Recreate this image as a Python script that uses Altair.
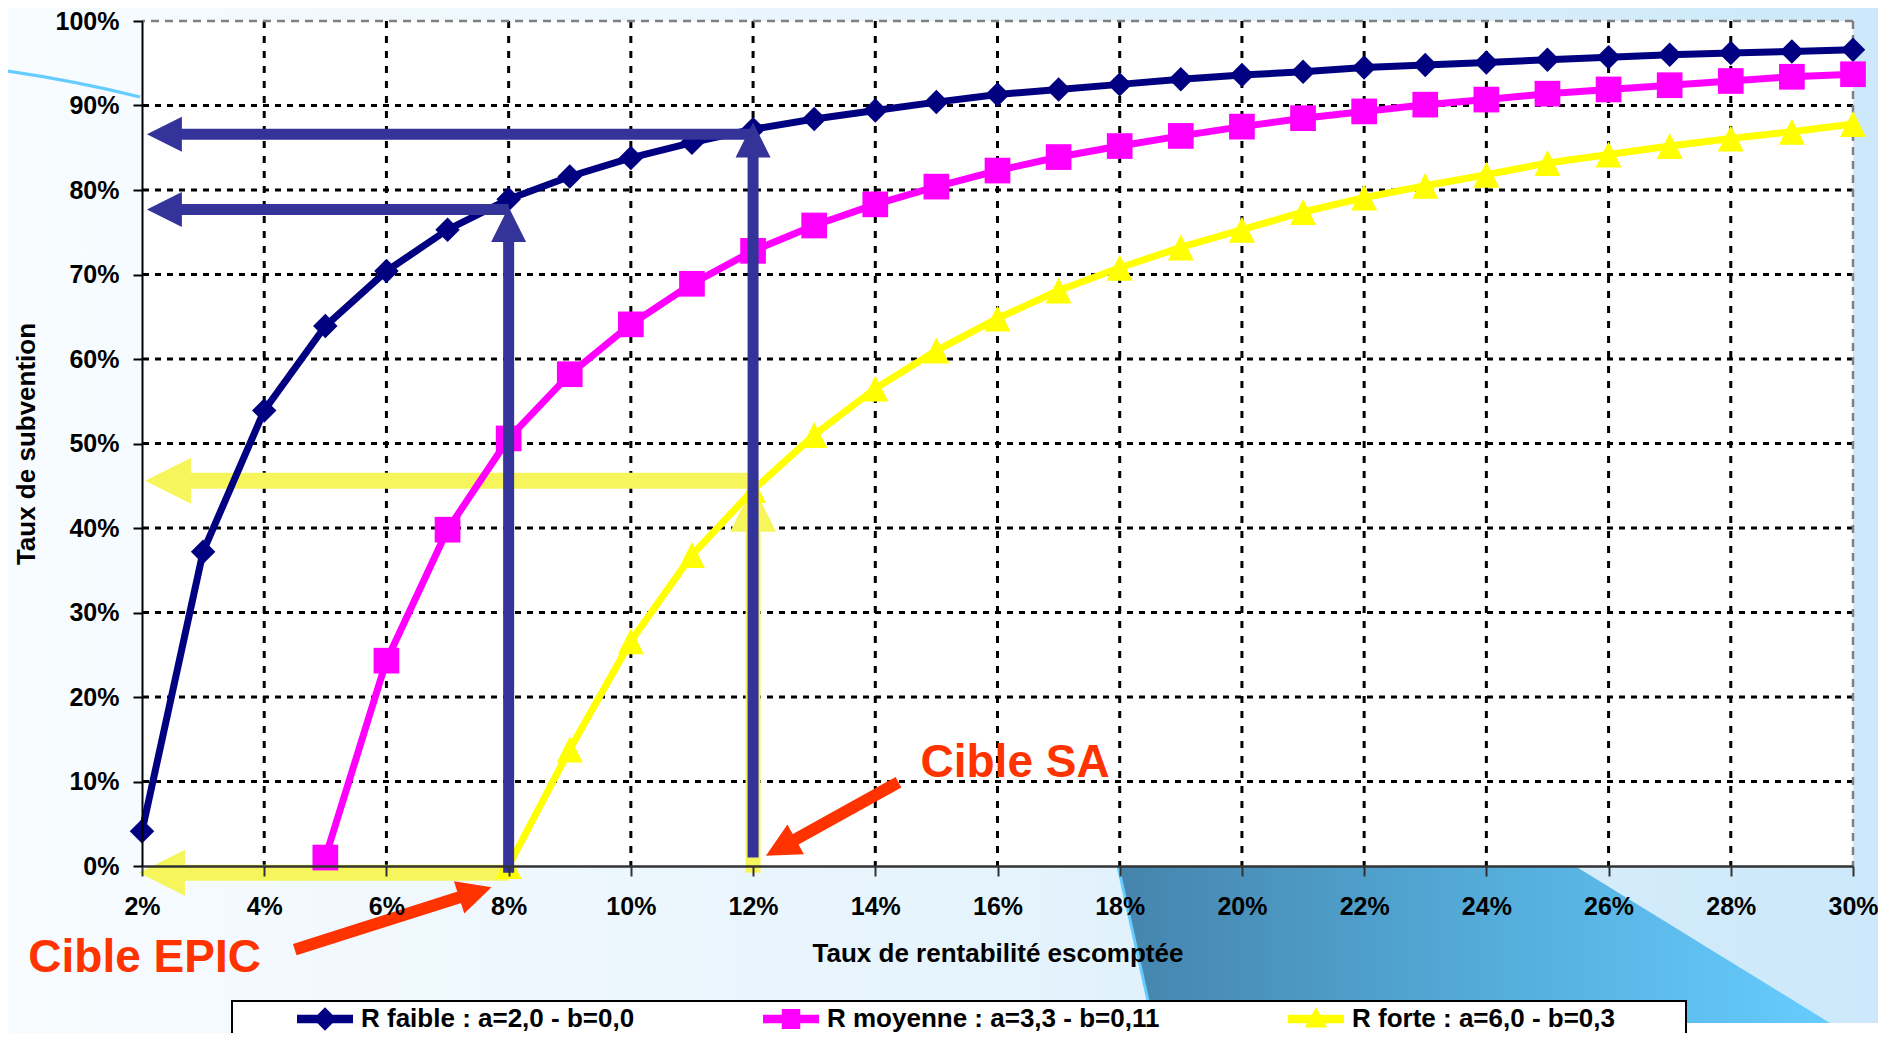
import math
import altair as alt
import pandas as pd

# ---------------- data ----------------
series_names = ["R faible : a=2,0 - b=0,0", "R moyenne : a=3,3 - b=0,11", "R forte : a=6,0 - b=0,3"]
series_colors = ["#000080", "#FF00FF", "#FFFF00"]

faible_x = list(range(2, 31))
faible_y = [4.1, 37.2, 53.9, 63.9, 70.4, 75.3, 78.9, 81.6, 83.8, 85.6,
            87.2, 88.4, 89.4, 90.4, 91.3, 91.9, 92.5, 93.1, 93.6, 94.0,
            94.5, 94.8, 95.1, 95.4, 95.7, 96.0, 96.2, 96.4, 96.6]
moyenne_x = list(range(5, 31))
moyenne_y = [1.0, 24.3, 39.8, 50.6, 58.2, 64.1, 68.9, 72.8, 75.8, 78.3,
             80.4, 82.3, 83.9, 85.2, 86.4, 87.5, 88.5, 89.3, 90.1, 90.7,
             91.4, 91.9, 92.4, 92.9, 93.4, 93.7]
forte_x = list(range(8, 31))
forte_y = [0.0, 13.8, 26.6, 36.8, 44.5, 51.0, 56.5, 61.0, 64.8, 68.1,
           70.8, 73.2, 75.3, 77.4, 79.1, 80.5, 81.8, 83.2, 84.2, 85.2,
           86.1, 86.9, 87.8]

x_ticks = list(range(2, 31, 2))
y_ticks = list(range(0, 101, 10))

# annotation arrows (data units: % on both axes)
navy_h_from = [12, 8]
navy_h_to = [2.08, 2.08]
navy_h_y = [86.6, 77.7]
navy_v_x = [8, 12]
navy_v_from = [-0.8, 1.0]
navy_v_to = [78.0, 88.0]
yellow_h_from = [12, 8]
yellow_h_to = [2.05, 1.95]
yellow_h_y = [45.6, -0.8]
yellow_v_x = [12]
yellow_v_from = [-0.8]
yellow_v_to = [45.0]
red_tail = [(4.50, -9.9), (14.38, 9.9)]
red_tip = [(7.72, -2.5), (12.21, 1.2)]
red_text = ["Cible EPIC", "Cible SA"]
red_text_x = [0.14, 14.74]
red_text_y = [-12.6, 10.5]

# ---------------- layout ----------------
PAD_L, PAD_T = 134, 13
W, H = 1711, 845
PAD_R = 1870 - PAD_L - W
PAD_B = 1025 - PAD_T - H
OX, OY = 8 + PAD_L, 8 + PAD_T   # plot origin in page pixels
FONT = "Liberation Sans"
NAVY_ARROW = "#333399"
YELLOW_ARROW = "#F6F65C"
RED = "#FF3300"


def page_path(cmds):
    """Build an SVG path (relative to the plot origin) from page-pixel points."""
    out = []
    for c, pts in cmds:
        out.append(c + " ".join(f"{x - OX:.1f},{y - OY:.1f}" for x, y in pts))
    return "".join(out)


xs = alt.Scale(domain=[x_ticks[0], x_ticks[-1]], nice=False, zero=False)
ys = alt.Scale(domain=[y_ticks[0], y_ticks[-1]], nice=False, zero=False)

xaxis = alt.Axis(values=x_ticks, labelExpr="datum.value + '%'", grid=False,
                 title="Taux de rentabilité escomptée", titleFont=FONT, titleFontSize=26,
                 titleFontWeight="bold", titleColor="black", titleX=W / 2, titleY=87,
                 titleBaseline="middle", titleAlign="center",
                 labelFont=FONT, labelFontSize=25, labelFontWeight="bold", labelColor="black",
                 labelFlush=False, labelOverlap=False, labelPadding=18,
                 tickSize=10, tickWidth=2, tickColor="#333333",
                 domainColor="#333333", domainWidth=2.5, zindex=1)
yaxis = alt.Axis(values=y_ticks, labelExpr="datum.value + '%'", grid=False,
                 title="Taux de subvention", titleFont=FONT, titleFontSize=26,
                 titleFontWeight="bold", titleColor="black", titleAngle=270,
                 titleX=-116, titleY=H / 2, titleBaseline="middle", titleAlign="center",
                 labelFont=FONT, labelFontSize=25, labelFontWeight="bold", labelColor="black",
                 labelFlush=False, labelOverlap=False, labelPadding=14,
                 tickSize=9, tickWidth=2, tickColor="black",
                 domainColor="black", domainWidth=2, zindex=1)


def X(f):
    return alt.X(f, type="quantitative", scale=xs, axis=xaxis)


def Y(f):
    return alt.Y(f, type="quantitative", scale=ys, axis=yaxis)


one = alt.Data(values=[{}])

# ---------------- decoration ----------------
bg_grad = alt.LinearGradient(gradient="linear", x1=0, y1=0, x2=1, y2=0, stops=[
    alt.GradientStop(color="#F8FCFF", offset=0),
    alt.GradientStop(color="#E4F3FC", offset=0.55),
    alt.GradientStop(color="#CCE8FA", offset=1)])
dark_grad = alt.LinearGradient(gradient="linear", x1=0, y1=0, x2=1, y2=0, stops=[
    alt.GradientStop(color="#4584AC", offset=0),
    alt.GradientStop(color="#55AEDC", offset=0.55),
    alt.GradientStop(color="#66CCFF", offset=1)])

bg = alt.Chart(one).mark_rect(fill=bg_grad, strokeWidth=0).encode(
    x=alt.value(-PAD_L), x2=alt.value(W + PAD_R), y=alt.value(-PAD_T), y2=alt.value(H + PAD_B))
dark = alt.Chart(one).mark_point(
    shape=page_path([("M", [(1118, 866)]), ("L", [(1575, 866), (1830, 1023), (1153, 1023)]), ("Z", [])]),
    size=4, filled=True, fill=dark_grad, strokeWidth=0, opacity=1).encode(x=alt.value(0), y=alt.value(0))
edge = alt.Chart(one).mark_point(
    shape=page_path([("M", [(1118, 866)]), ("L", [(1153, 1023)])]), size=4, filled=False,
    stroke="#66CCFF", strokeWidth=3, opacity=1).encode(x=alt.value(0), y=alt.value(0))
corner = alt.Chart(one).mark_rect(fill="white", strokeWidth=0).encode(
    x=alt.value(1686 - OX), x2=alt.value(W + PAD_R), y=alt.value(1023 - OY), y2=alt.value(H + PAD_B))
curve = alt.Chart(one).mark_point(
    shape=page_path([("M", [(0, 70)]), ("Q", [(72, 80), (140, 97)])]), size=4, filled=False,
    stroke="#66CCFF", strokeWidth=3, opacity=1).encode(x=alt.value(0), y=alt.value(0))
plot_bg = alt.Chart(one).mark_rect(fill="white", strokeWidth=0).encode(
    x=alt.value(0), x2=alt.value(W), y=alt.value(0), y2=alt.value(H))

# ---------------- grid & border ----------------
hgrid = alt.Chart(pd.DataFrame({"v": y_ticks[1:-1]})).mark_rule(
    color="black", strokeWidth=3, strokeDash=[6, 6]).encode(y=Y("v"))
vgrid = alt.Chart(pd.DataFrame({"v": x_ticks[1:-1]})).mark_rule(
    color="black", strokeWidth=3, strokeDash=[7, 8]).encode(x=X("v"))
top_border = alt.Chart(pd.DataFrame({"v": [y_ticks[-1]]})).mark_rule(
    color="#808080", strokeWidth=2.5, strokeDash=[8, 6]).encode(y=Y("v"))
right_border = alt.Chart(pd.DataFrame({"v": [x_ticks[-1]]})).mark_rule(
    color="#808080", strokeWidth=2.5, strokeDash=[8, 6]).encode(x=X("v"))

# ---------------- arrows ----------------
LEFT_HEAD = "M0,0L2,-1L2,1Z"
UP_HEAD = "M0,0L1,2L-1,2Z"
RIGHT_HEAD = "M0,0L-2,-1L-2,1Z"


def h_arrow(xf, xt, yv, color, width, k):
    df = pd.DataFrame({"xf": xf, "xt": xt, "y": yv})
    shaft = alt.Chart(df).mark_rule(color=color, strokeWidth=width, strokeCap="butt",
                                    x2Offset=2 * k - 1).encode(
        x=X("xf"), x2=alt.X2("xt"), y=Y("y"))
    head = alt.Chart(df).mark_point(shape=LEFT_HEAD, size=(2 * k) ** 2, filled=True,
                                    color=color, opacity=1, strokeWidth=0).encode(
        x=X("xt"), y=Y("y"))
    return [shaft, head]


def v_arrow(xv, yf, yt, color, width, k):
    df = pd.DataFrame({"x": xv, "yf": yf, "yt": yt})
    shaft = alt.Chart(df).mark_rule(color=color, strokeWidth=width, strokeCap="butt",
                                    y2Offset=2 * k - 1).encode(
        x=X("x"), y=Y("yf"), y2=alt.Y2("yt"))
    head = alt.Chart(df).mark_point(shape=UP_HEAD, size=(2 * k) ** 2, filled=True,
                                    color=color, opacity=1, strokeWidth=0).encode(
        x=X("x"), y=Y("yt"))
    return [shaft, head]


PX = W / (x_ticks[-1] - x_ticks[0])
PY = H / (y_ticks[-1] - y_ticks[0])


def red_arrow(tail, tip, k=17, width=12):
    dx = (tip[0] - tail[0]) * PX
    dy = -(tip[1] - tail[1]) * PY
    L = math.hypot(dx, dy)
    ux, uy = dx / L, dy / L
    ang = math.degrees(math.atan2(dy, dx)) % 360
    df = pd.DataFrame({"x1": [tail[0]], "y1": [tail[1]], "x2": [tip[0]], "y2": [tip[1]]})
    hl = 2 * k - 2
    shaft = alt.Chart(df).mark_rule(color=RED, strokeWidth=width, strokeCap="butt",
                                    x2Offset=-ux * hl, y2Offset=-uy * hl).encode(
        x=X("x1"), y=Y("y1"), x2=alt.X2("x2"), y2=alt.Y2("y2"))
    head = alt.Chart(df).mark_point(shape=RIGHT_HEAD, size=(2 * k) ** 2, filled=True,
                                    color=RED, opacity=1, strokeWidth=0, angle=ang).encode(
        x=X("x2"), y=Y("y2"))
    return [shaft, head]


yellow_layers = (h_arrow(yellow_h_from, yellow_h_to, yellow_h_y, YELLOW_ARROW, 16, 23)
                 + v_arrow(yellow_v_x, yellow_v_from, yellow_v_to, YELLOW_ARROW, 15, 23))
navy_layers = (h_arrow(navy_h_from, navy_h_to, navy_h_y, NAVY_ARROW, 11, 17.5)
               + v_arrow(navy_v_x, navy_v_from, navy_v_to, NAVY_ARROW, 11, 17.5))
red_layers = []
for t, p in zip(red_tail, red_tip):
    red_layers += red_arrow(t, p)

texts = alt.Chart(pd.DataFrame({"x": red_text_x, "y": red_text_y, "t": red_text})).mark_text(
    font=FONT, fontSize=46, fontWeight="bold", color=RED, align="left",
    baseline="alphabetic").encode(x=X("x"), y=Y("y"), text="t:N")

# ---------------- series ----------------
series_x = [faible_x, moyenne_x, forte_x]
series_y = [faible_y, moyenne_y, forte_y]
marker_shapes = ["diamond", "square", "M0,-1L1,1L-1,1Z"]
marker_sizes = [600, 660, 676]

series_layers = []
for xv, yv, col, shp, sz in zip(series_x, series_y, series_colors, marker_shapes, marker_sizes):
    df = pd.DataFrame({"taux": xv, "subv": yv})
    base = alt.Chart(df)
    series_layers.append(base.mark_line(color=col, strokeWidth=7).encode(
        x=X("taux"), y=Y("subv"), order="taux:Q"))
    series_layers.append(base.mark_point(shape=shp, size=sz, filled=True, color=col,
                                         opacity=1, strokeWidth=0).encode(
        x=X("taux"), y=Y("subv")))

# ---------------- legend ----------------
legend_paths = [
    "M-1,-0.15H1V0.15H-1Z M0,-0.42L0.42,0L0,0.42L-0.42,0Z",
    "M-1,-0.15H1V0.15H-1Z M-0.33,-0.36H0.33V0.36H-0.33Z",
    "M-1,-0.15H1V0.15H-1Z M0,-0.42L0.4,0.3H-0.4Z",
]
leg = alt.Legend(title=None, orient="none", legendX=297 - OX, legendY=970,
                 direction="horizontal", columns=3, columnPadding=128, labelOffset=8, padding=0,
                 labelFont=FONT, labelFontSize=26, labelFontWeight="bold", labelColor="black",
                 labelLimit=800, symbolSize=3136, symbolStrokeWidth=0, symbolOpacity=1)
legend_box = alt.Chart(one).mark_rect(fill="white", stroke="black", strokeWidth=2).encode(
    x=alt.value(232 - OX), x2=alt.value(1686 - OX), y=alt.value(1001 - OY), y2=alt.value(H + PAD_B + 6))
legend_layer = alt.Chart(pd.DataFrame({"serie": series_names})).transform_filter(
    "false").mark_point(filled=True, opacity=1, size=3136, strokeWidth=0).encode(
    x=X("x"), y=Y("y"),
    color=alt.Color("serie:N", scale=alt.Scale(domain=series_names, range=series_colors), legend=leg),
    shape=alt.Shape("serie:N", scale=alt.Scale(domain=series_names, range=legend_paths), legend=leg))

layers = ([bg, dark, edge, corner, curve, plot_bg, hgrid, vgrid, top_border, right_border]
          + yellow_layers + series_layers + navy_layers + red_layers + [texts, legend_box, legend_layer])

chart = alt.layer(*layers).properties(
    width=W, height=H,
    autosize=alt.AutoSizeParams(type="none"),
    padding={"left": PAD_L, "top": PAD_T, "right": PAD_R, "bottom": PAD_B},
).configure_view(strokeWidth=0, stroke=None)

chart.save("out.html", embed_options={"renderer": "svg", "actions": False})
